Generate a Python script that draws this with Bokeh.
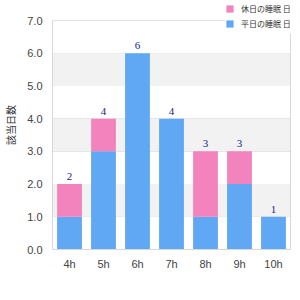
from bokeh.plotting import figure
from bokeh.models import (ColumnDataSource, BoxAnnotation, Legend, LegendItem, FixedTicker,
                          LabelSet, LinearAxis)
from bokeh.embed import file_html
from bokeh.resources import INLINE

hours = ["4h", "5h", "6h", "7h", "8h", "9h", "10h"]
weekday = [1, 3, 6, 4, 1, 2, 1]
holiday = [1, 1, 0, 0, 2, 1, 0]
totals = [w + h for w, h in zip(weekday, holiday)]
series_names = ["平日の睡眠 日", "休日の睡眠 日"]
y_title = "該当日数"
y_ticks = [0, 1, 2, 3, 4, 5, 6, 7]

BLUE = "#60a8f4"
PINK = "#f383bd"
FONT = "Liberation Sans"
CJK = "Noto Sans CJK JP"

src = ColumnDataSource(dict(hours=hours, weekday=weekday, holiday=holiday,
                            totals=totals, labels=[str(t) for t in totals]))

# extra headroom above 7.0 holds the legend, as in the reference
p = figure(width=300, height=300, x_range=hours, y_range=(0, 7 * 249 / 229),
           output_backend="svg", toolbar_location=None,
           min_border_left=50, min_border_right=10, min_border_top=0, min_border_bottom=51)
p.outline_line_color = None

for lo, hi in [(1, 2), (3, 4), (5, 6)]:
    p.add_layout(BoxAnnotation(bottom=lo, top=hi, fill_color="#f2f2f2", fill_alpha=1,
                               line_color=None, level="underlay"))

r = p.vbar_stack(["weekday", "holiday"], x="hours", width=0.73, source=src,
                 color=[BLUE, PINK], line_color=None)

labels = LabelSet(x="hours", y="totals", text="labels", source=src, y_offset=4,
                  text_align="center", text_baseline="bottom", text_font_size="11px",
                  text_color="#1a1a8c", text_font=FONT)
p.add_layout(labels)

p.yaxis.ticker = FixedTicker(ticks=y_ticks)
p.yaxis.major_label_overrides = {i: f"{i}.0" for i in y_ticks}
p.yaxis.bounds = (0, 7)
p.xgrid.grid_line_color = None
p.ygrid.grid_line_color = "#e0e0e0"
for ax in (p.xaxis[0], p.yaxis[0]):
    ax.axis_line_color = "#d8d8d8"
    ax.major_tick_line_color = None
    ax.minor_tick_line_color = None
    ax.major_tick_out = 0
    ax.major_tick_in = 0
    ax.minor_tick_out = 0
    ax.major_label_text_font = FONT
    ax.major_label_text_font_size = "11px"
    ax.major_label_text_color = "#444444"
p.yaxis.major_label_standoff = 10
p.xaxis.major_label_standoff = 8
p.yaxis.axis_label = y_title
p.yaxis.axis_label_text_font = CJK
p.yaxis.axis_label_text_font_style = "normal"
p.yaxis.axis_label_text_font_size = "10px"
p.yaxis.axis_label_text_color = "#333333"
p.yaxis.axis_label_standoff = 6
p.x_range.range_padding = 0

# right frame border
rax = LinearAxis(bounds=(0, 6.6), ticker=FixedTicker(ticks=[]), axis_line_color="#d8d8d8",
                 major_tick_out=0, major_tick_in=0, minor_tick_out=0, major_label_standoff=0,
                 major_label_text_font_size="0px")
p.add_layout(rax, "right")

legend = Legend(items=[LegendItem(label=series_names[1], renderers=[r[1]]),
                       LegendItem(label=series_names[0], renderers=[r[0]])],
                location=(173, 220), background_fill_color="white", background_fill_alpha=1,
                border_line_color=None,
                label_text_font=CJK, label_text_font_size="8px",
                label_text_color="#333333", glyph_width=9, glyph_height=9,
                label_standoff=7, spacing=4, padding=1, margin=0, label_height=9,
                label_text_line_height=1.0)
p.add_layout(legend, "center")

open("out.html", "w").write(file_html(p, INLINE))
